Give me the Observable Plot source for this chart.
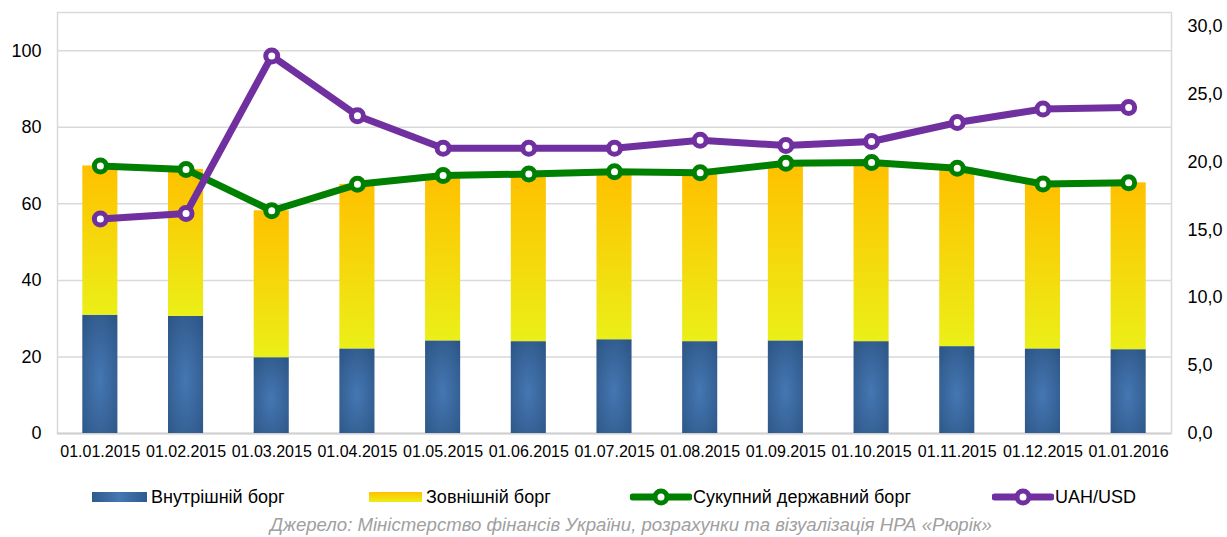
<!DOCTYPE html>
<html>
<head>
<meta charset="utf-8">
<script src="https://cdn.jsdelivr.net/npm/d3@7"></script>
<script src="https://cdn.jsdelivr.net/npm/@observablehq/plot@0.6"></script>
<style>
  body { margin: 0; background: #fff; font-family: "Liberation Sans", Arial, sans-serif; }
  #wrap { position: relative; width: 1227px; height: 537px; overflow: hidden; }
  #chart { position: absolute; left: 0; top: 0; }
  .lg { position: absolute; font-size: 18px; color: #000; line-height: 1; white-space: nowrap; }
  .sw { position: absolute; }
  #caption { position: absolute; left: 0; width: 1262px; text-align: center; top: 515px; font-size: 18.6px; line-height: 1.1; font-style: italic; color: #a0a0a0; white-space: nowrap; }
</style>
</head>
<body>
<div id="wrap">
  <div id="chart"></div>
  <svg class="sw" style="left:92px;top:492px" width="55" height="10">
    <defs><linearGradient id="lgBlue" x1="0" x2="1" y1="0" y2="0">
      <stop offset="0" stop-color="#2f5a8c"/><stop offset="0.5" stop-color="#4577b3"/><stop offset="1" stop-color="#2f5a8c"/></linearGradient></defs>
    <rect width="55" height="10" fill="url(#lgBlue)"/></svg>
  <div class="lg" style="left:151px;top:488px">Внутрішній борг</div>
  <svg class="sw" style="left:369px;top:492px" width="53" height="10">
    <defs><linearGradient id="lgYel" x1="0" x2="0" y1="0" y2="1">
      <stop offset="0" stop-color="#ffc000"/><stop offset="1" stop-color="#ecee18"/></linearGradient></defs>
    <rect width="53" height="10" fill="url(#lgYel)"/></svg>
  <div class="lg" style="left:426px;top:488px">Зовнішній борг</div>
  <svg class="sw" style="left:630px;top:485px" width="62" height="24">
    <line x1="3" x2="59" y1="12" y2="12" stroke="#008000" stroke-width="7" stroke-linecap="round"/>
    <circle cx="31" cy="12" r="6" fill="#fff" stroke="#008000" stroke-width="5"/></svg>
  <div class="lg" style="left:693px;top:488px">Сукупний державний борг</div>
  <svg class="sw" style="left:992px;top:485px" width="62" height="24">
    <line x1="3" x2="59" y1="12" y2="12" stroke="#7030a0" stroke-width="7" stroke-linecap="round"/>
    <circle cx="31" cy="12" r="6" fill="#fff" stroke="#7030a0" stroke-width="5"/></svg>
  <div class="lg" style="left:1055px;top:488px">UAH/USD</div>
  <div id="caption">Джерело: Міністерство фінансів України, розрахунки та візуалізація НРА «Рюрік»</div>
</div>
<script>
const dates = ["01.01.2015","01.02.2015","01.03.2015","01.04.2015","01.05.2015","01.06.2015","01.07.2015","01.08.2015","01.09.2015","01.10.2015","01.11.2015","01.12.2015","01.01.2016"];
const internalDebt = [30.9, 30.6, 19.8, 22.1, 24.2, 24.0, 24.5, 24.0, 24.2, 24.0, 22.7, 22.1, 21.9];
const externalDebt = [39.0, 38.4, 38.4, 43.0, 43.2, 43.8, 43.9, 44.1, 46.4, 46.8, 46.6, 43.1, 43.6];
const totalDebt    = [69.9, 69.0, 58.2, 65.1, 67.4, 67.8, 68.4, 68.1, 70.6, 70.8, 69.3, 65.2, 65.5];
const uahUsd       = [15.8, 16.2, 27.8, 23.4, 21.0, 21.0, 21.0, 21.6, 21.2, 21.5, 22.9, 23.9, 24.0];
const leftTicks  = [0, 20, 40, 60, 80, 100];
const rightTicks = [0, 5, 10, 15, 20, 25, 30];
const leftMax = 110, rightMax = 31;
const k = leftMax / rightMax;

const rows = dates.map((d, i) => ({
  date: d,
  internal: internalDebt[i],
  external: externalDebt[i],
  total: totalDebt[i],
  rate: uahUsd[i],
  rateScaled: uahUsd[i] * k
}));

const chart = Plot.plot({
  width: 1227,
  height: 470,
  marginLeft: 57,
  marginRight: 56,
  marginTop: 12,
  marginBottom: 37,
  style: { fontFamily: "'Liberation Sans', Arial, sans-serif", fontSize: "18px", color: "#000", background: "#fff" },
  x: { type: "band", domain: dates, padding: 0, round: false, label: null },
  y: { domain: [0, leftMax], label: null },
  marks: [
    Plot.ruleY(leftTicks.filter(t => t > 0), { stroke: "#d9d9d9", strokeWidth: 1.5 }),
    Plot.frame({ stroke: "#d9d9d9", strokeWidth: 1.5 }),
    Plot.ruleY([0], { stroke: "#d0d0d0", strokeWidth: 2 }),
    Plot.barY(rows, { x: "date", y1: 0, y2: "internal", fill: "url(#gBlue)", insetLeft: 25.3, insetRight: 25.3 }),
    Plot.barY(rows, { x: "date", y1: "internal", y2: d => d.internal + d.external, fill: "url(#gYel)", insetLeft: 25.3, insetRight: 25.3 }),
    Plot.lineY(rows, { x: "date", y: "total", stroke: "#008000", strokeWidth: 7 }),
    Plot.dot(rows, { x: "date", y: "total", r: 6, fill: "#fff", stroke: "#008000", strokeWidth: 5 }),
    Plot.lineY(rows, { x: "date", y: "rateScaled", stroke: "#7030a0", strokeWidth: 7 }),
    Plot.dot(rows, { x: "date", y: "rateScaled", r: 6, fill: "#fff", stroke: "#7030a0", strokeWidth: 5 }),
    Plot.axisY(leftTicks, { anchor: "left", tickSize: 0, tickPadding: 16, fontSize: 18 }),
    Plot.axisY(rightTicks.map(t => t * k), { anchor: "right", tickSize: 0, tickPadding: 16, fontSize: 18,
      tickFormat: v => (v / k).toFixed(1).replace(".", ",") }),
    Plot.axisX({ tickSize: 0, tickPadding: 12, fontSize: 16 })
  ]
});

const svg = d3.select(chart);
const defs = svg.insert("defs", ":first-child");
const rg = defs.append("radialGradient").attr("id", "gBlue").attr("cx", "0.5").attr("cy", "0.55").attr("r", "0.7");
rg.append("stop").attr("offset", "0").attr("stop-color", "#4577b3");
rg.append("stop").attr("offset", "1").attr("stop-color", "#2d5686");
const lg = defs.append("linearGradient").attr("id", "gYel").attr("x1", 0).attr("x2", 0).attr("y1", 0).attr("y2", 1);
lg.append("stop").attr("offset", "0").attr("stop-color", "#ffc000");
lg.append("stop").attr("offset", "1").attr("stop-color", "#ebef18");

document.getElementById("chart").appendChild(chart);
</script>
</body>
</html>
